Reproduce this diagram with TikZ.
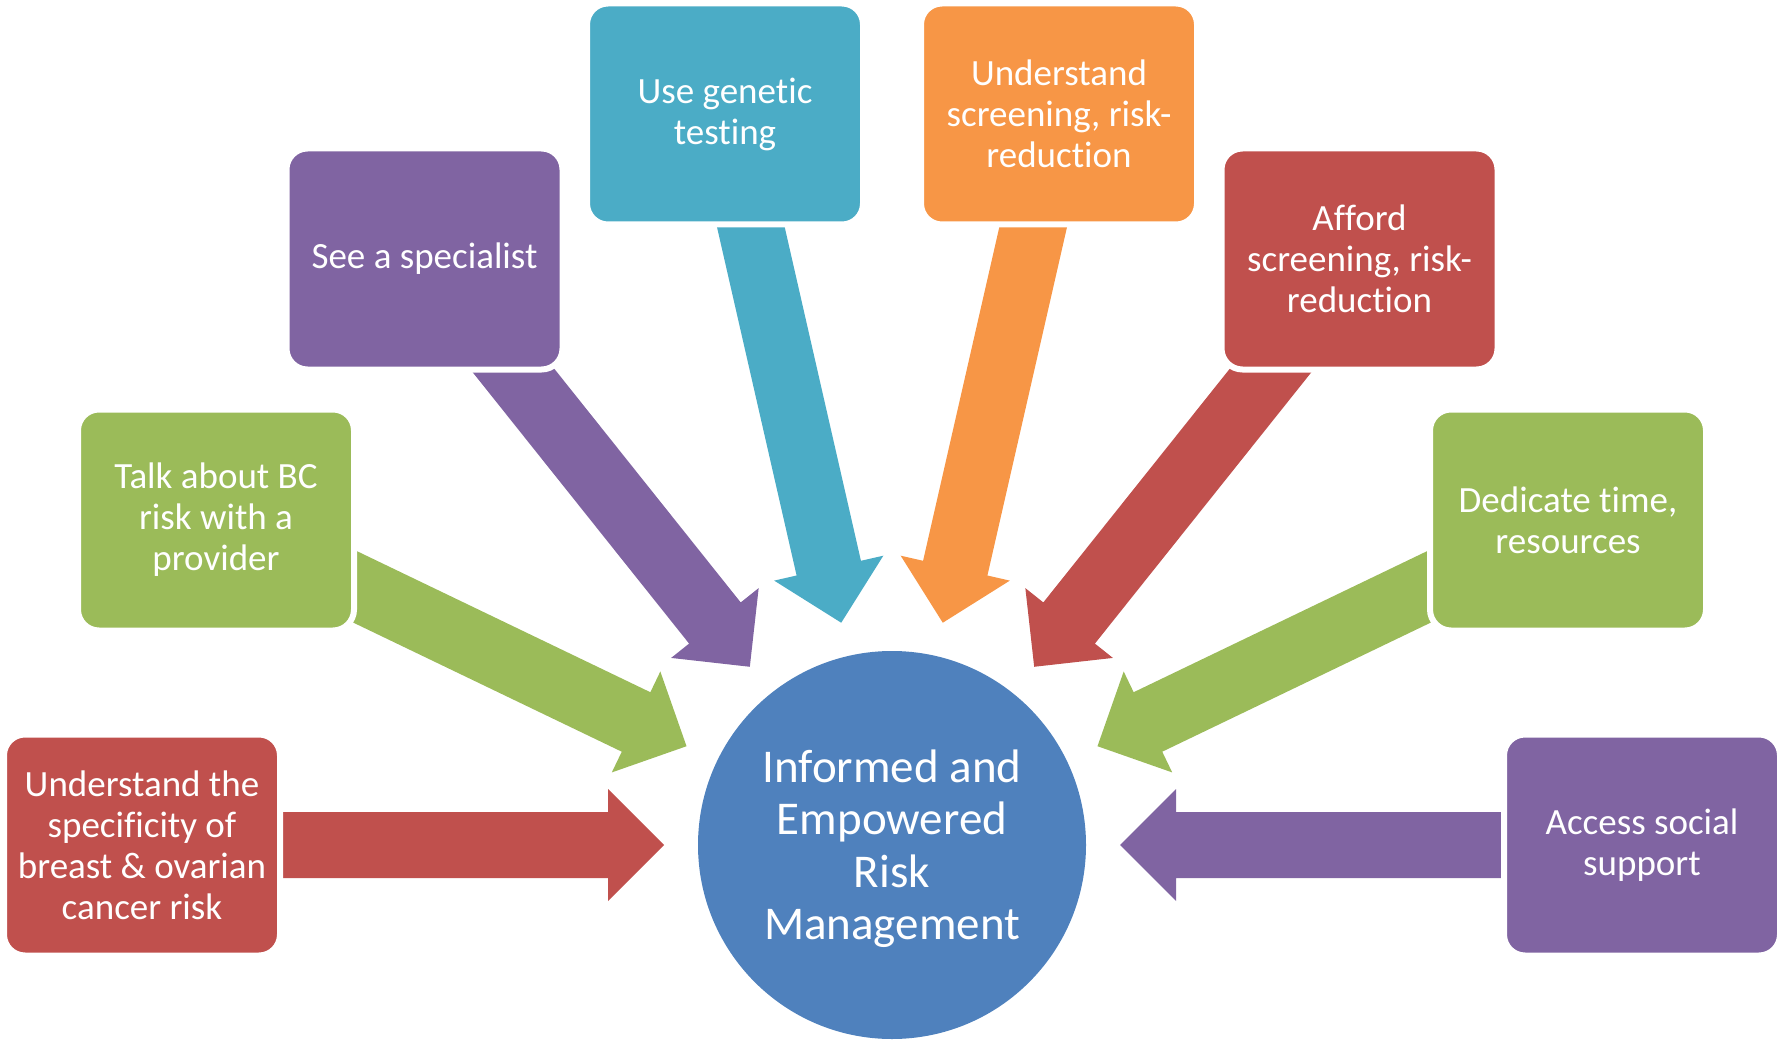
\documentclass[tikz,border=0pt]{standalone}
\usepackage{fontspec}
\setmainfont{Carlito}[Ligatures=NoCommon]
\usetikzlibrary{calc,backgrounds}
\definecolor{cred}{HTML}{C0504D}
\definecolor{cgreen}{HTML}{9BBB59}
\definecolor{cpurple}{HTML}{8064A2}
\definecolor{cteal}{HTML}{4BACC6}
\definecolor{corange}{HTML}{F79646}
\definecolor{cblue}{HTML}{4F81BD}
\newcommand\bxfont{\fontsize{37}{41}\selectfont}
\newcommand\ctrfont{\fontsize{47}{52.5}\selectfont}
\newcommand\blockarrow[2]{%
  \coordinate (P) at ($(c)!228pt!(#2)$);
  \coordinate (H) at ($(P)!56pt!(#2)$);
  \fill[#1] ($(#2)!33pt!90:(P)$) -- ($(H)!33pt!90:(P)$) -- ($(H)!56pt!90:(P)$) -- (P)
    -- ($(H)!56pt!-90:(P)$) -- ($(H)!33pt!-90:(P)$) -- ($(#2)!33pt!-90:(P)$) -- cycle;
}
\tikzset{
  box/.style={rounded corners=21pt, minimum width=276pt, minimum height=221pt,
    draw=white, line width=6pt, text=white, align=center, font=\bxfont, inner sep=0pt},
  hub/.style={circle, minimum size=388pt, fill=cblue, inner sep=0pt},
  hubtext/.style={text=white, align=center, font=\ctrfont, inner sep=0pt}
}
\begin{document}
\begin{tikzpicture}[x=1pt,y=-1pt]
\useasboundingbox (0,0) rectangle (1787,1040);
\node[hub] (c) at (892,845) {};
\node[hubtext] (ct) at ([yshift=-3.5pt]c.center) {Informed and\\Empowered\\Risk\\Management};
\node[box, fill=cred] (b1) at (142,845) {Understand the\\specificity of\\breast \& ovarian\\cancer risk};
\node[box, fill=cgreen] (b2) at (216,520) {Talk about BC\\risk with a\\provider};
\node[box, fill=cpurple] (b3) at (424.5,259) {See a specialist};
\node[box, fill=cteal] (b4) at (725,114) {Use genetic\\testing};
\node[box, fill=corange] (b5) at (1059,114) {Understand\\screening, risk-\\reduction};
\node[box, fill=cred] (b6) at (1359.5,259) {Afford\\screening, risk-\\reduction};
\node[box, fill=cgreen] (b7) at (1568,520) {Dedicate time,\\resources};
\node[box, fill=cpurple] (b8) at (1642,845) {Access social\\support};
\begin{pgfonlayer}{background}
\blockarrow{cred}{b1}
\blockarrow{cgreen}{b2}
\blockarrow{cpurple}{b3}
\blockarrow{cteal}{b4}
\blockarrow{corange}{b5}
\blockarrow{cred}{b6}
\blockarrow{cgreen}{b7}
\blockarrow{cpurple}{b8}
\end{pgfonlayer}
\end{tikzpicture}
\end{document}
